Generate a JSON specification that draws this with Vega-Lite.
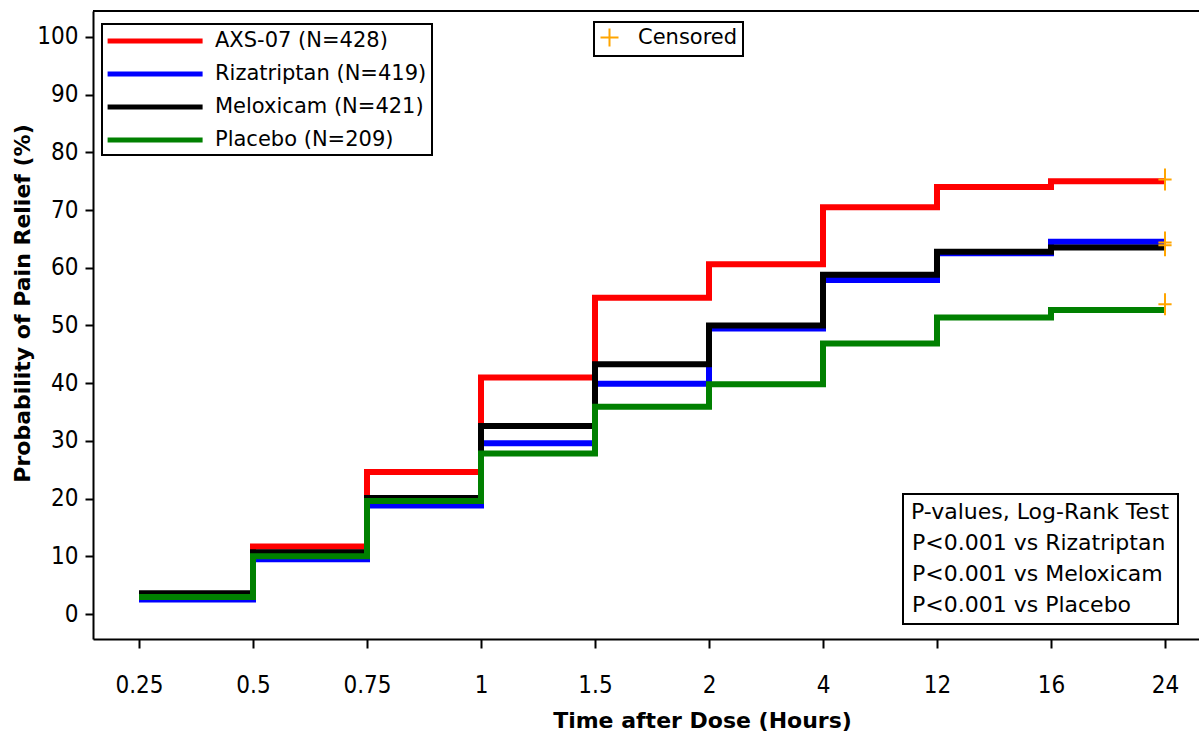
{
  "$schema": "https://vega.github.io/schema/vega-lite/v6.json",
  "width": 1106,
  "height": 628,
  "autosize": "none",
  "padding": {"left": 93, "top": 11, "right": 0, "bottom": 98},
  "background": "white",
  "datasets": {
    "curves": [
      {"group": "AXS-07 (N=428)", "hours": 0.25, "pct": 3.3},
      {"group": "AXS-07 (N=428)", "hours": 0.5, "pct": 11.7},
      {"group": "AXS-07 (N=428)", "hours": 0.75, "pct": 24.6},
      {"group": "AXS-07 (N=428)", "hours": 1, "pct": 41.0},
      {"group": "AXS-07 (N=428)", "hours": 1.5, "pct": 54.8},
      {"group": "AXS-07 (N=428)", "hours": 2, "pct": 60.6},
      {"group": "AXS-07 (N=428)", "hours": 4, "pct": 70.5},
      {"group": "AXS-07 (N=428)", "hours": 12, "pct": 74.0},
      {"group": "AXS-07 (N=428)", "hours": 16, "pct": 75.0},
      {"group": "AXS-07 (N=428)", "hours": 24, "pct": 75.0},
      {"group": "Rizatriptan (N=419)", "hours": 0.25, "pct": 2.5},
      {"group": "Rizatriptan (N=419)", "hours": 0.5, "pct": 9.5},
      {"group": "Rizatriptan (N=419)", "hours": 0.75, "pct": 18.8},
      {"group": "Rizatriptan (N=419)", "hours": 1, "pct": 29.6},
      {"group": "Rizatriptan (N=419)", "hours": 1.5, "pct": 39.9},
      {"group": "Rizatriptan (N=419)", "hours": 2, "pct": 49.5},
      {"group": "Rizatriptan (N=419)", "hours": 4, "pct": 57.9},
      {"group": "Rizatriptan (N=419)", "hours": 12, "pct": 62.5},
      {"group": "Rizatriptan (N=419)", "hours": 16, "pct": 64.5},
      {"group": "Rizatriptan (N=419)", "hours": 24, "pct": 64.5},
      {"group": "Meloxicam (N=421)", "hours": 0.25, "pct": 3.6},
      {"group": "Meloxicam (N=421)", "hours": 0.5, "pct": 10.7},
      {"group": "Meloxicam (N=421)", "hours": 0.75, "pct": 20.1},
      {"group": "Meloxicam (N=421)", "hours": 1, "pct": 32.6},
      {"group": "Meloxicam (N=421)", "hours": 1.5, "pct": 43.3},
      {"group": "Meloxicam (N=421)", "hours": 2, "pct": 50.0},
      {"group": "Meloxicam (N=421)", "hours": 4, "pct": 58.8},
      {"group": "Meloxicam (N=421)", "hours": 12, "pct": 62.8},
      {"group": "Meloxicam (N=421)", "hours": 16, "pct": 63.5},
      {"group": "Meloxicam (N=421)", "hours": 24, "pct": 63.5},
      {"group": "Placebo (N=209)", "hours": 0.25, "pct": 2.95},
      {"group": "Placebo (N=209)", "hours": 0.5, "pct": 10.0},
      {"group": "Placebo (N=209)", "hours": 0.75, "pct": 19.6},
      {"group": "Placebo (N=209)", "hours": 1, "pct": 27.8},
      {"group": "Placebo (N=209)", "hours": 1.5, "pct": 35.9},
      {"group": "Placebo (N=209)", "hours": 2, "pct": 39.8},
      {"group": "Placebo (N=209)", "hours": 4, "pct": 46.9},
      {"group": "Placebo (N=209)", "hours": 12, "pct": 51.4},
      {"group": "Placebo (N=209)", "hours": 16, "pct": 52.7},
      {"group": "Placebo (N=209)", "hours": 24, "pct": 52.7}
    ],
    "censored": [
      {"group": "AXS-07 (N=428)", "hours": 24, "pct": 75.3, "status": "Censored"},
      {"group": "Rizatriptan (N=419)", "hours": 24, "pct": 64.4, "status": "Censored"},
      {"group": "Meloxicam (N=421)", "hours": 24, "pct": 63.9, "status": "Censored"},
      {"group": "Placebo (N=209)", "hours": 24, "pct": 53.7, "status": "Censored"}
    ],
    "pvalues": [
      {"cmp": "P<0.001 vs Rizatriptan"},
      {"cmp": "P<0.001 vs Meloxicam"},
      {"cmp": "P<0.001 vs Placebo"}
    ]
  },
  "layer": [
    {
      "data": {"values": [{}]},
      "mark": {"type": "rule", "color": "black", "strokeWidth": 2},
      "encoding": {"y": {"datum": 104.5, "type": "quantitative"}}
    },
    {
      "data": {"name": "curves"},
      "mark": {"type": "line", "interpolate": "step-after", "strokeWidth": 6, "strokeCap": "butt", "strokeJoin": "miter"},
      "encoding": {
        "x": {
          "field": "hours", "type": "ordinal",
          "scale": {"type": "point", "padding": 0.3509, "align": 0.575},
          "axis": {
            "title": "Time after Dose (Hours)",
            "tickSize": 9, "labelPadding": 37, "labelBaseline": "middle", "labelAngle": 0,
            "titleX": 609, "titleY": 81, "titleBaseline": "middle", "titleAlign": "center"
          }
        },
        "y": {
          "field": "pct", "type": "quantitative",
          "scale": {"domain": [-4.33, 104.5], "nice": false, "zero": false},
          "axis": {
            "title": "Probability of Pain Relief (%)",
            "values": [0, 10, 20, 30, 40, 50, 60, 70, 80, 90, 100],
            "tickSize": 8, "labelPadding": 7,
            "titleX": -71, "titleY": 292, "titleAngle": -90, "titleAlign": "center", "titleBaseline": "middle"
          }
        },
        "color": {
          "field": "group", "type": "nominal",
          "scale": {
            "domain": ["AXS-07 (N=428)", "Rizatriptan (N=419)", "Meloxicam (N=421)", "Placebo (N=209)"],
            "range": ["#FF0000", "#0000FF", "#000000", "#008000"]
          },
          "legend": {
            "orient": "none", "legendX": 9, "legendY": 13, "title": null,
            "padding": 5, "rowPadding": 11,
            "symbolType": "M-1.2,0H8.8", "symbolSize": 361, "symbolStrokeWidth": 5,
            "labelOffset": 84, "labelFontSize": 21, "strokeColor": "black"
          }
        },
        "order": {"field": "hours", "type": "quantitative"}
      }
    },
    {
      "data": {"name": "censored"},
      "mark": {"type": "point", "shape": "M-0.6,0H0.6M0,-1V1", "size": 484, "filled": false, "strokeWidth": 2, "opacity": 1},
      "encoding": {
        "x": {"field": "hours", "type": "ordinal"},
        "y": {"field": "pct", "type": "quantitative"},
        "stroke": {
          "field": "status", "type": "nominal",
          "scale": {"range": ["#FFA500"]},
          "legend": {
            "orient": "none", "legendX": 501, "legendY": 11, "title": null,
            "padding": 5, "symbolType": "M-1,0H1M0,-1V1", "symbolSize": 324, "symbolStrokeWidth": 2,
            "labelOffset": 18, "labelFontSize": 21, "strokeColor": "black"
          }
        }
      }
    },
    {
      "data": {"name": "pvalues"},
      "mark": {"type": "point", "opacity": 0},
      "encoding": {
        "shape": {
          "field": "cmp", "type": "nominal",
          "scale": {
            "domain": ["P<0.001 vs Rizatriptan", "P<0.001 vs Meloxicam", "P<0.001 vs Placebo"],
            "range": ["M0,0", "M0,0", "M0,0"]
          },
          "legend": {
            "orient": "none", "legendX": 810, "legendY": 483,
            "title": "P-values, Log-Rank Test\u00a0\u00a0\u00a0\u00a0",
            "titleFontWeight": "normal", "titleFontSize": 22, "titleColor": "black", "titlePadding": 8, "titleLimit": 0,
            "padding": 8, "rowPadding": 9, "symbolSize": 1, "symbolStrokeWidth": 0, "labelOffset": -21,
            "labelFontSize": 22, "strokeColor": "black"
          }
        }
      }
    }
  ],
  "config": {
    "view": {"stroke": null},
    "font": "DejaVu Sans",
    "axis": {
      "domainColor": "black", "domainWidth": 2, "tickColor": "black", "tickWidth": 2,
      "labelColor": "black", "labelFont": "DejaVu Sans Condensed, Liberation Sans, sans-serif", "labelFontSize": 24,
      "titleColor": "black", "titleFont": "DejaVu Sans", "titleFontWeight": "bold", "titleFontSize": 22,
      "grid": false
    },
    "legend": {
      "labelFont": "DejaVu Sans", "labelColor": "black", "titleFont": "DejaVu Sans",
      "strokeColor": "black", "strokeWidth": 2, "labelLimit": 0
    }
  }
}
